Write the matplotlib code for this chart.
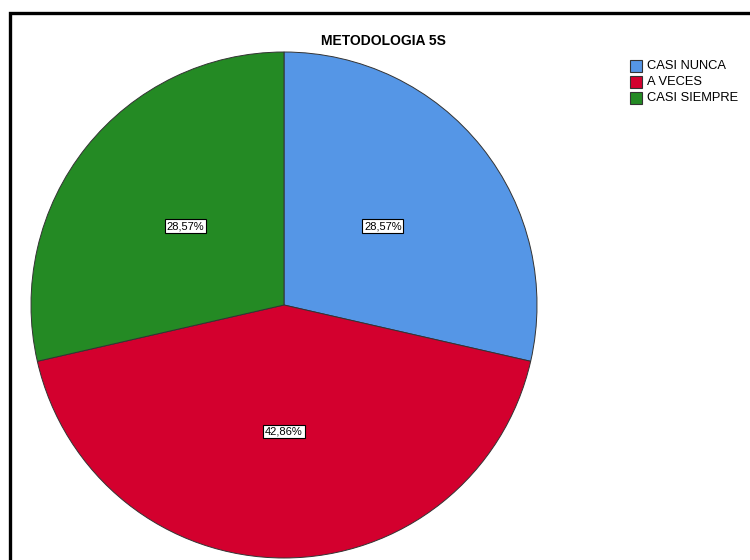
import numpy as np
import matplotlib
matplotlib.use("Agg")
import matplotlib.pyplot as plt
from matplotlib.patches import Rectangle

# Data
categories = ["CASI NUNCA", "A VECES", "CASI SIEMPRE"]
counts = [2, 3, 2]
colors = ["#5596E6", "#D3002E", "#248A24"]

plt.rcParams["font.family"] = ["Liberation Sans Narrow", "Liberation Sans", "DejaVu Sans"]

fig = plt.figure(figsize=(7.5, 5.6), dpi=100)
fig.patch.set_facecolor("white")

# outer frame (cut off on right and bottom)
fig.patches.append(Rectangle((10 / 750, -0.05), 1.2, 1 - 13 / 560 + 0.05,
                             transform=fig.transFigure, fill=False,
                             edgecolor="black", lw=2.4, zorder=0))

ax = fig.add_axes([31 / 750, 2 / 560, 506 / 750, 506 / 560])
total = sum(counts)
wedges, texts = ax.pie(counts, colors=colors, startangle=90, counterclock=False,
                       radius=1.0,
                       wedgeprops=dict(edgecolor="#333333", linewidth=0.7))
for w, c in zip(wedges, counts):
    ang = np.deg2rad((w.theta1 + w.theta2) / 2)
    x, y = 0.5 * np.cos(ang), 0.5 * np.sin(ang)
    ax.text(x, y, f"{c / total * 100:.2f}%".replace(".", ","),
            ha="center", va="center", fontsize=8, family=["Liberation Sans", "DejaVu Sans"],
            bbox=dict(facecolor="white", edgecolor="black", lw=0.8,
                      boxstyle="square,pad=0.15"))
ax.set_xlim(-1, 1)
ax.set_ylim(-1, 1)
ax.set_aspect("equal")
ax.axis("off")

fig.text(383 / 750, 1 - 41 / 560, "METODOLOGIA 5S", ha="center", va="center",
         fontsize=10, weight="bold")

# legend
for i, (lab, col) in enumerate(zip(categories, colors)):
    yy = 1 - (66 + 16 * i) / 560
    fig.patches.append(Rectangle((630 / 750, yy - 6 / 560), 12 / 750, 12 / 560,
                                 transform=fig.transFigure, facecolor=col,
                                 edgecolor="#333333", lw=0.8))
    fig.text(647 / 750, yy, lab, ha="left", va="center", fontsize=9.3,
             family=["Liberation Sans", "DejaVu Sans"])

fig.savefig("out.png", dpi=100, facecolor="white")
